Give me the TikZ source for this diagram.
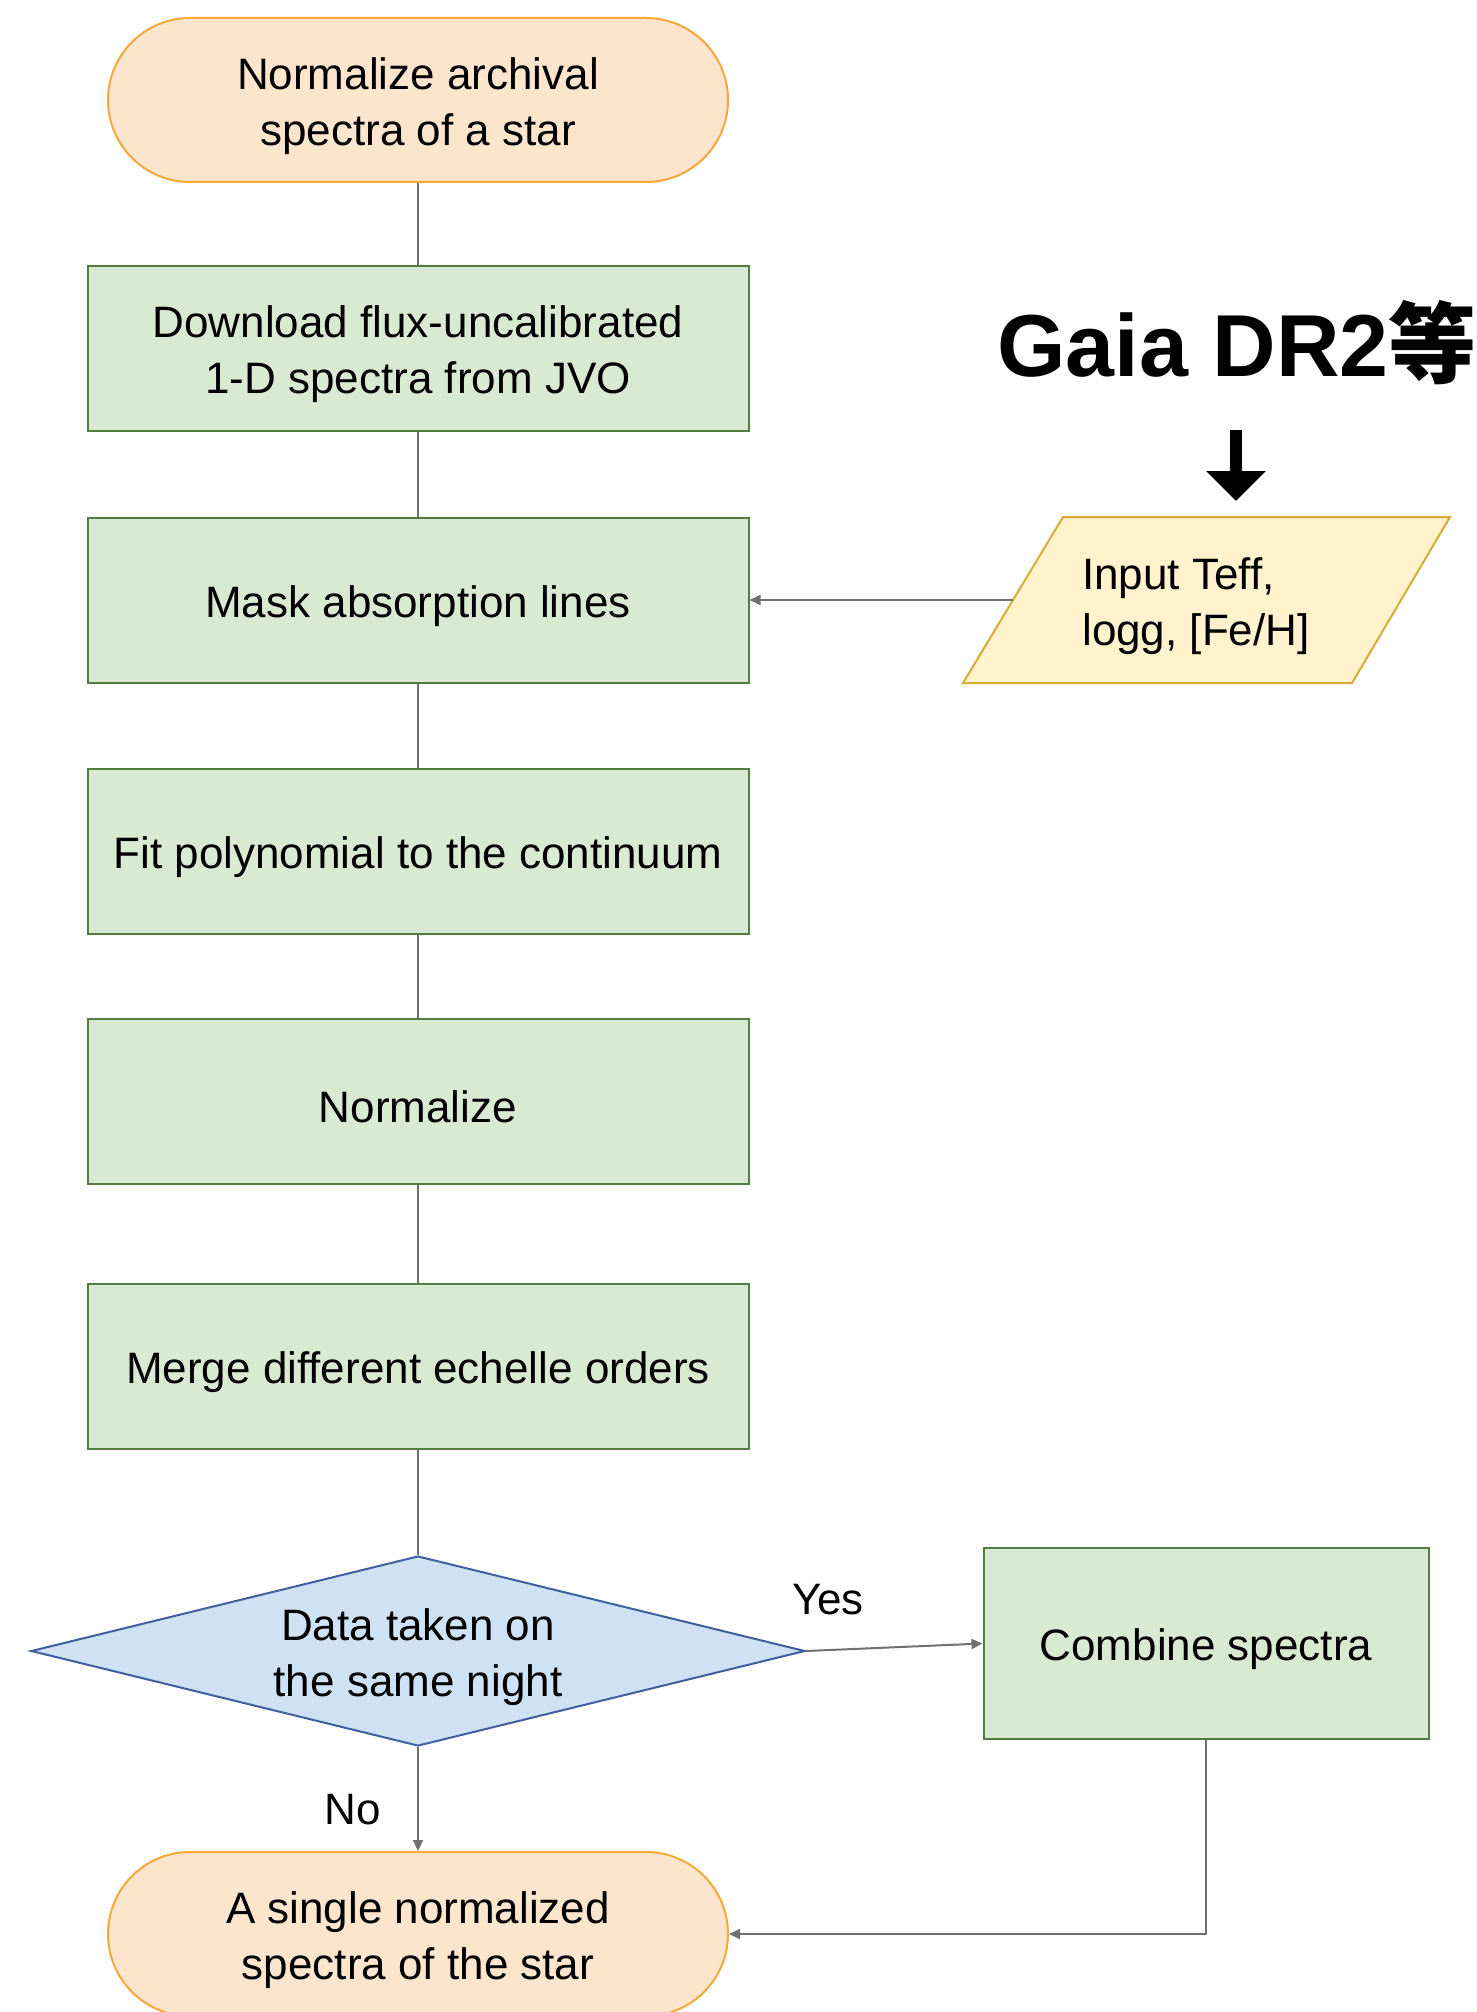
\documentclass[tikz,border=0pt]{standalone}
\usepackage{fontspec}
\setmainfont{Liberation Sans}
\newfontfamily\cjk{Noto Sans CJK JP}
\usetikzlibrary{shapes.geometric,shapes.misc,arrows.meta}
\definecolor{termfill}{HTML}{FCE5CD}
\definecolor{termdraw}{HTML}{F6A93B}
\definecolor{boxfill}{HTML}{D9EAD3}
\definecolor{boxdraw}{HTML}{527F3F}
\definecolor{decfill}{HTML}{CFE2F3}
\definecolor{decdraw}{HTML}{3F5FA0}
\definecolor{inpfill}{HTML}{FFF2CC}
\definecolor{inpdraw}{HTML}{D6AE34}
\definecolor{conn}{HTML}{707070}
\newcommand{\lowr}{\rule{0pt}{44pt}}
\begin{document}
\begin{tikzpicture}[x=1pt,y=-1pt,
  every node/.style={font=\fontsize{44}{56}\selectfont, text=black, inner sep=0pt},
  term/.style={rounded rectangle, fill=termfill, draw=termdraw, line width=2pt,
    minimum width=620pt, minimum height=164pt, align=center},
  procbox/.style={rectangle, fill=boxfill, draw=boxdraw, line width=2pt,
    minimum width=661pt, minimum height=165pt, align=center},
  decision/.style={diamond, aspect=4.07, fill=decfill, draw=decdraw, line width=2pt,
    minimum width=774pt, minimum height=190pt, align=center},
  inputshape/.style={fill=inpfill, draw=inpdraw, line width=2pt, line join=miter},
  link/.style={draw=conn, line width=2pt},
  arr/.style={link, -{Triangle[length=11pt,width=10pt]}}
]
\useasboundingbox (0,0) rectangle (1476,2012);
\fill[white] (0,0) rectangle (1476,2012);

\node[term] (start) at (418,100) {\lowr Normalize archival\\spectra of a star};
\node[procbox] (dl) at (418,348.5) {\lowr Download flux-uncalibrated\\1-D spectra from JVO};
\node[procbox] (mask) at (418,600) {\lowr Mask absorption lines};
\node[procbox] (fit) at (418,851) {\lowr Fit polynomial to the continuum};
\node[procbox] (norm) at (418,1101) {\lowr Normalize};
\node[procbox] (merge) at (418,1366) {\lowr Merge different echelle orders};
\node[decision] (dec) at (418,1651) {\lowr Data taken on\\the same night};
\node[procbox, minimum width=445pt, minimum height=191pt] (comb) at (1206,1643.5) {\lowr Combine spectra};
\node[term] (end) at (418,1934) {\lowr A single normalized\\spectra of the star};

% input parallelogram
\coordinate (p1) at (963,683);
\coordinate (p2) at (1063,517);
\coordinate (p3) at (1450,517);
\coordinate (p4) at (1352,683);
\coordinate (inpw) at (1013,600);
\draw[inputshape] (p1) -- (p2) -- (p3) -- (p4) -- cycle;
\node[align=left] (inp) at (1196,600) {\lowr Input Teff,\\logg, [Fe/H]};

\node[anchor=base, font=\fontsize{88}{100}\selectfont\bfseries] (gaia) at (1237,376) {Gaia DR2{\cjk\bfseries 等}};
\coordinate (ga1) at (1236,430);
\coordinate (ga2) at (1236,501);
\draw[line width=12pt, -{Triangle[length=30pt,width=58pt]}] (ga1) -- (ga2);

\node (yes) at (828,1600) {Yes};
\node (no) at (353,1810) {No};

\draw[link] (start) -- (dl);
\draw[link] (dl) -- (mask);
\draw[link] (mask) -- (fit);
\draw[link] (fit) -- (norm);
\draw[link] (norm) -- (merge);
\draw[link] (merge) -- (dec);
\draw[arr] (inpw) -- (mask.east);
\draw[arr] (dec.east) -- (comb.west);
\draw[arr] (dec.south) -- (end.north);
\draw[arr] (comb.south) |- (end.east);
\end{tikzpicture}
\end{document}
